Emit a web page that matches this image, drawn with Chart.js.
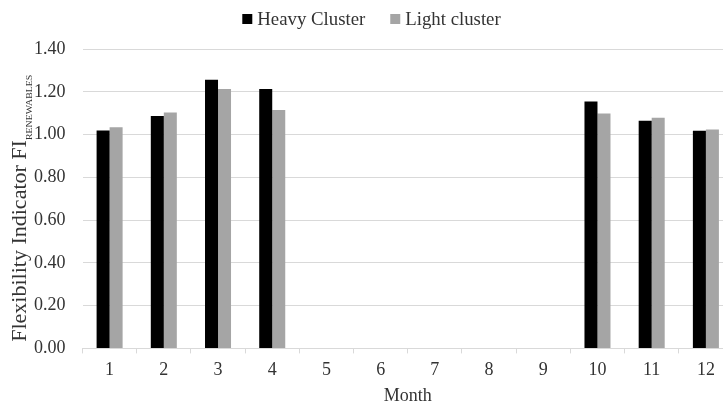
<!DOCTYPE html>
<html>
<head>
<meta charset="utf-8">
<script src="https://cdn.jsdelivr.net/npm/chart.js@4.4.1/dist/chart.umd.min.js"></script>
<style>
  html, body { margin: 0; padding: 0; background: #ffffff; overflow: hidden; }
  #wrap { width: 743px; height: 405px; }
</style>
</head>
<body>
<div id="wrap"><canvas id="c" width="743" height="405"></canvas></div>
<script>
const months = ['1','2','3','4','5','6','7','8','9','10','11','12'];
const heavyCluster = [1.019, 1.087, 1.256, 1.213, null, null, null, null, null, 1.155, 1.065, 1.018];
const lightCluster = [1.034, 1.103, 1.213, 1.115, null, null, null, null, null, 1.098, 1.078, 1.024];
const yTicks = [0, 0.2, 0.4, 0.6, 0.8, 1.0, 1.2, 1.4];
const seriesNames = ['Heavy Cluster', 'Light cluster'];
const seriesColors = ['#000000', '#a5a5a5'];
const yTitleMain = 'Flexibility Indicator FI';
const yTitleSub = 'RENEWABLES';
const xTitle = 'Month';

const FONT = "'Liberation Serif', 'Times New Roman', serif";
const TXT = '#333333';

const yTitlePlugin = {
  id: 'yTitle',
  afterDraw(chart) {
    const ctx = chart.ctx;
    const area = chart.chartArea;
    const stretch = 1.1;
    ctx.save();
    const cy = (area.top + area.bottom) / 2 + 9.5;
    ctx.translate(25.5, cy);
    ctx.rotate(-Math.PI / 2);
    ctx.scale(stretch, 1);
    ctx.font = '20px ' + FONT;
    const w1 = ctx.measureText(yTitleMain).width;
    ctx.font = '9px ' + FONT;
    const w2 = ctx.measureText(yTitleSub).width;
    const total = w1 + w2;
    ctx.fillStyle = TXT;
    ctx.textBaseline = 'alphabetic';
    ctx.textAlign = 'left';
    ctx.font = '20px ' + FONT;
    ctx.fillText(yTitleMain, -total / 2, 0);
    ctx.font = '9px ' + FONT;
    ctx.fillText(yTitleSub, -total / 2 + w1, 6);
    ctx.restore();
  }
};

const legendPlugin = {
  id: 'customLegend',
  afterDraw(chart) {
    const ctx = chart.ctx;
    ctx.save();
    ctx.font = '18.8px ' + FONT;
    const box = 10, gap = 5, spacing = 25;
    const widths = seriesNames.map(n => ctx.measureText(n).width);
    let total = 0;
    widths.forEach((w, i) => { total += box + gap + w + (i ? spacing : 0); });
    let x = chart.width / 2 - total / 2;
    const baseline = 25;
    ctx.textBaseline = 'alphabetic';
    ctx.textAlign = 'left';
    seriesNames.forEach((n, i) => {
      ctx.fillStyle = seriesColors[i];
      ctx.fillRect(x, baseline - 11, box, box);
      x += box + gap;
      ctx.fillStyle = TXT;
      ctx.fillText(n, x, baseline);
      x += widths[i] + spacing;
    });
    ctx.restore();
  }
};

new Chart(document.getElementById('c'), {
  type: 'bar',
  data: {
    labels: months,
    datasets: [
      { label: seriesNames[0], data: heavyCluster, backgroundColor: seriesColors[0], borderWidth: 0 },
      { label: seriesNames[1], data: lightCluster, backgroundColor: seriesColors[1], borderWidth: 0 }
    ]
  },
  options: {
    responsive: false,
    animation: false,
    devicePixelRatio: 1,
    layout: { padding: { left: 17, right: 10, top: 49, bottom: 0 } },
    datasets: { bar: { categoryPercentage: 0.48, barPercentage: 1.0 } },
    plugins: {
      legend: { display: false },
      tooltip: { enabled: false }
    },
    scales: {
      x: {
        grid: { offset: true, drawOnChartArea: false, drawTicks: true, tickLength: 5, color: '#d9d9d9' },
        border: { display: true, color: '#d9d9d9' },
        ticks: { font: { family: FONT, size: 18 }, color: TXT, padding: 6, maxRotation: 0 },
        title: { display: true, text: xTitle, font: { family: FONT, size: 18, lineHeight: 1.0 }, color: TXT, padding: { top: 0, bottom: 0 } }
      },
      y: {
        min: 0,
        max: 1.4,
        afterBuildTicks(scale) { scale.ticks = yTicks.map(v => ({ value: v })); },
        grid: { color: '#d9d9d9', drawTicks: false },
        border: { display: false },
        ticks: {
          font: { family: FONT, size: 18 },
          color: TXT,
          padding: 17,
          callback: v => Number(v).toFixed(2)
        }
      }
    }
  },
  plugins: [yTitlePlugin, legendPlugin]
});
</script>
</body>
</html>
